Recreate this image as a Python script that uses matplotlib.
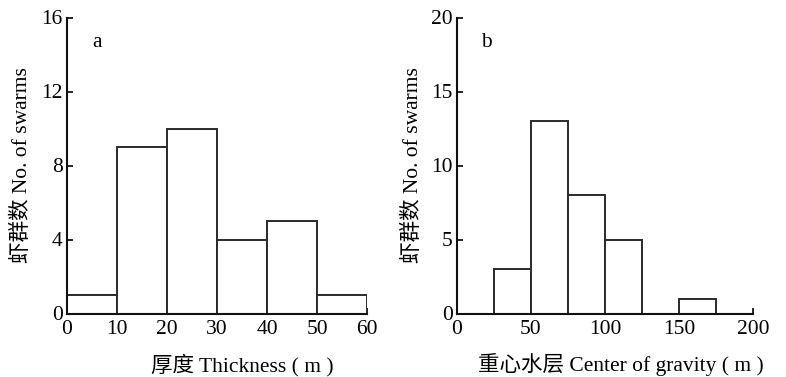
import matplotlib
matplotlib.use("Agg")
import matplotlib.pyplot as plt
import numpy as np

# Panel a: thickness
thick_edges = [0, 10, 20, 30, 40, 50, 60]
thick_counts = [1, 9, 10, 4, 5, 1]
thick_xticks = [0, 10, 20, 30, 40, 50, 60]
thick_yticks = [0, 4, 8, 12, 16]

# Panel b: center of gravity
cog_edges = [0, 25, 50, 75, 100, 125, 150, 175, 200]
cog_counts = [0, 3, 13, 8, 5, 0, 1, 0]
cog_xticks = [0, 50, 100, 150, 200]
cog_yticks = [0, 5, 10, 15, 20]

FAM = ['Liberation Serif', 'Noto Sans CJK SC']
plt.rcParams['font.family'] = FAM
FS = 15.5

fig = plt.figure(figsize=(7.86, 3.77), dpi=100)
axa = fig.add_axes([67/786, 1-313.5/377, 300/786, 296/377])
axb = fig.add_axes([457/786, 1-313.5/377, 296/786, 296/377])

def draw(ax, edges, counts, xt, yt, xlabel, tag, xlab_x, tag_x):
    edges = np.array(edges)
    counts = np.array(counts)
    widths = np.diff(edges)
    mask = counts > 0
    ax.bar(edges[:-1][mask], counts[mask], width=widths[mask], align='edge',
           facecolor='white', edgecolor='#2a2a2a', linewidth=1.4, zorder=2)
    ax.set_xlim(edges[0], edges[-1])
    ax.set_ylim(yt[0], yt[-1])
    ax.set_xticks(xt)
    ax.set_yticks(yt)
    for s in ['top', 'right']:
        ax.spines[s].set_visible(False)
    for s in ['left', 'bottom']:
        ax.spines[s].set_linewidth(1.5)
        ax.spines[s].set_color('#111111')
        ax.spines[s].set_zorder(3)
    ax.tick_params(direction='in', length=4, width=1.2, labelsize=FS, pad=3)
    ax.tick_params(axis='x', pad=5)
    ax.set_xlabel(xlabel, fontsize=FS, va='center')
    ax.xaxis.set_label_coords(xlab_x, -0.174)
    ax.set_ylabel('虾群数 No. of swarms', fontsize=FS, va='center')
    ax.yaxis.set_label_coords(-44/296, 0.5)
    ax.text(tag_x, 0.914, tag, transform=ax.transAxes, fontsize=FS,
            ha='center', va='center')

draw(axa, thick_edges, thick_counts, thick_xticks, thick_yticks,
     '厚度 Thickness ( m )', 'a', 0.583, 0.1)
draw(axb, cog_edges, cog_counts, cog_xticks, cog_yticks,
     '重心水层 Center of gravity ( m )', 'b', 0.554, 0.098)

fig.savefig('out.png', dpi=100)
